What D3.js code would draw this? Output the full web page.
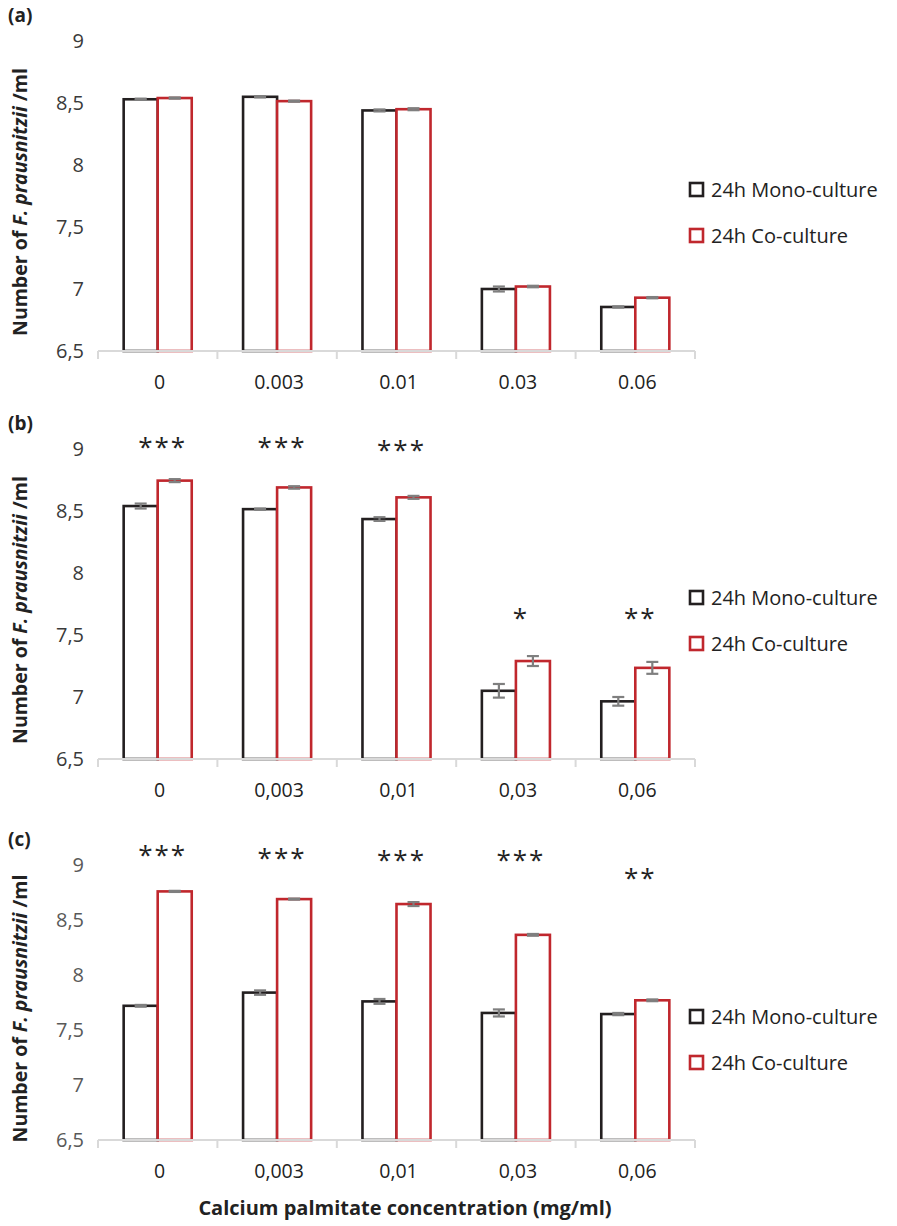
<script src="https://d3js.org/d3.v7.min.js"></script>
<style>
  body { margin: 0; background: #fff; }
  text { font-family: "Open Sans", "Noto Sans", sans-serif; }
</style>
<svg width=897 height=1226></svg>
<script>
var catsA = ["0", "0.003", "0.01", "0.03", "0.06"]
var catsBC = ["0", "0,003", "0,01", "0,03", "0,06"]
var yTicks = [6.5, 7, 7.5, 8, 8.5, 9]
var series = ["24h Mono-culture", "24h Co-culture"]

// panel (a)
var monoA = [8.53, 8.55, 8.44, 7.00, 6.855]
var coA = [8.54, 8.515, 8.45, 7.02, 6.93]
var monoErrA = [0.005, 0.005, 0.008, 0.02, 0.005]
var coErrA = [0.005, 0.005, 0.008, 0.006, 0.005]

// panel (b)
var monoB = [8.54, 8.515, 8.435, 7.05, 6.965]
var coB = [8.745, 8.69, 8.61, 7.29, 7.235]
var monoErrB = [0.02, 0.005, 0.015, 0.055, 0.035]
var coErrB = [0.012, 0.01, 0.012, 0.04, 0.048]
var sigB = ["***", "***", "***", "*", "**"]
var sigYB = [9.03, 9.03, 9.01, 7.65, 7.65]

// panel (c)
var monoC = [7.72, 7.84, 7.76, 7.655, 7.645]
var coC = [8.76, 8.69, 8.645, 8.365, 7.77]
var monoErrC = [0.008, 0.02, 0.022, 0.032, 0.01]
var coErrC = [0.005, 0.005, 0.018, 0.008, 0.008]
var sigC = ["***", "***", "***", "***", "**"]
var sigYC = [9.11, 9.08, 9.06, 9.06, 8.9]

var colors = ["#231f20", "#c0272d"]
var svg = d3.select('svg')

function drawPanel(p) {
  var g = svg.append('g')
  var x = d3.scaleBand().domain(p.cats).range([98, 695]).paddingInner(0.43).paddingOuter(0.215)
  var xs = d3.scaleBand().domain([0, 1]).range([0, x.bandwidth()])
  var y = d3.scaleLinear().domain([6.5, 9]).range([p.y0, p.y1])
  var step = x.step()

  // panel letter
  g.append('text').attr('x', 8).attr('y', p.y1 - 19)
    .style('font-weight', 'bold').style('font-size', '19px').attr('fill', '#222')
    .text(p.letter)

  // y tick labels
  g.selectAll('.yt').data(yTicks).enter().append('text')
    .attr('x', 84).attr('y', d => y(d)).attr('dy', '0.35em')
    .attr('text-anchor', 'end').style('font-size', '20px').attr('fill', p.tickColor)
    .text(d => String(d).replace('.', ','))

  // y axis title
  var t = g.append('text')
    .attr('transform', 'translate(27,' + ((p.y0 + p.y1) / 2 + 6) + ') rotate(-90)')
    .attr('text-anchor', 'middle').style('font-weight', 'bold').style('font-size', '19.5px').attr('fill', '#222')
  t.append('tspan').text('Number of ')
  t.append('tspan').style('font-style', 'italic').text('F. prausnitzii')
  t.append('tspan').text(' /ml')

  // bars
  var vals = [p.mono, p.co]
  var errs = [p.monoErr, p.coErr]
  vals.forEach(function(v, s) {
    g.selectAll('.bar' + s).data(p.cats).enter().append('rect')
      .attr('x', d => x(d) + xs(s))
      .attr('y', (d, i) => y(v[i]))
      .attr('width', xs.bandwidth())
      .attr('height', (d, i) => y(6.5) - y(v[i]))
      .attr('fill', 'white').attr('stroke', colors[s]).attr('stroke-width', 2.6)
  })

  // axis line and ticks
  g.append('line').attr('x1', 98).attr('x2', 695).attr('y1', p.y0).attr('y2', p.y0)
    .attr('stroke', '#d9d9d9').attr('stroke-width', 2)
  var bounds = d3.range(p.cats.length + 1).map(i => 98 + i * step)
  g.selectAll('.xt').data(bounds).enter().append('line')
    .attr('x1', d => d).attr('x2', d => d).attr('y1', p.y0).attr('y2', p.y0 + 8)
    .attr('stroke', '#d9d9d9').attr('stroke-width', 2)

  // error bars
  vals.forEach(function(v, s) {
    p.cats.forEach(function(c, i) {
      var cx = x(c) + xs(s) + xs.bandwidth() / 2
      var e = errs[s][i]
      var eg = g.append('g').attr('stroke', '#7f7f7f').attr('stroke-width', 2.2)
      eg.append('line').attr('x1', cx).attr('x2', cx).attr('y1', y(v[i] - e)).attr('y2', y(v[i] + e))
      eg.append('line').attr('x1', cx - 6).attr('x2', cx + 6).attr('y1', y(v[i] - e)).attr('y2', y(v[i] - e))
      eg.append('line').attr('x1', cx - 6).attr('x2', cx + 6).attr('y1', y(v[i] + e)).attr('y2', y(v[i] + e))
    })
  })

  // x tick labels
  g.selectAll('.xl').data(p.cats).enter().append('text')
    .attr('x', d => x(d) + x.bandwidth() / 2 + 2).attr('y', p.y0 + 31).attr('dy', '0.35em')
    .attr('text-anchor', 'middle').style('font-size', '19.5px').attr('fill', '#222')
    .text(d => d)

  // significance stars
  if (p.sig) {
    g.selectAll('.sig').data(p.cats).enter().append('text')
      .attr('x', d => x(d) + x.bandwidth() / 2 + 5).attr('y', (d, i) => y(p.sigY[i]) + 11)
      .attr('text-anchor', 'middle').style('font-size', '26px').style('letter-spacing', '2px').attr('fill', '#222')
      .text((d, i) => p.sig[i])
  }

  // legend
  series.forEach(function(name, s) {
    var ly = p.legendY + s * 46
    g.append('rect').attr('x', 690).attr('y', ly - 7).attr('width', 13).attr('height', 13)
      .attr('fill', 'white').attr('stroke', colors[s]).attr('stroke-width', 2.6)
    g.append('text').attr('x', 711).attr('y', ly).attr('dy', '0.35em')
      .style('font-size', '20px').attr('fill', '#222').text(name)
  })
}

drawPanel({ letter: '(a)', cats: catsA, mono: monoA, co: coA, monoErr: monoErrA, coErr: coErrA,
  y0: 351, y1: 41, legendY: 190, tickColor: '#3a3a3a' })
drawPanel({ letter: '(b)', cats: catsBC, mono: monoB, co: coB, monoErr: monoErrB, coErr: coErrB,
  sig: sigB, sigY: sigYB, y0: 759, y1: 449, legendY: 598, tickColor: '#3a3a3a' })
drawPanel({ letter: '(c)', cats: catsBC, mono: monoC, co: coC, monoErr: monoErrC, coErr: coErrC,
  sig: sigC, sigY: sigYC, y0: 1140, y1: 865, legendY: 1017, tickColor: '#595959' })

// x axis title
svg.append('text').attr('x', 405).attr('y', 1208).attr('dy', '0.35em')
  .attr('text-anchor', 'middle').style('font-weight', 'bold').style('font-size', '20px').attr('fill', '#222')
  .text('Calcium palmitate concentration (mg/ml)')
</script>
